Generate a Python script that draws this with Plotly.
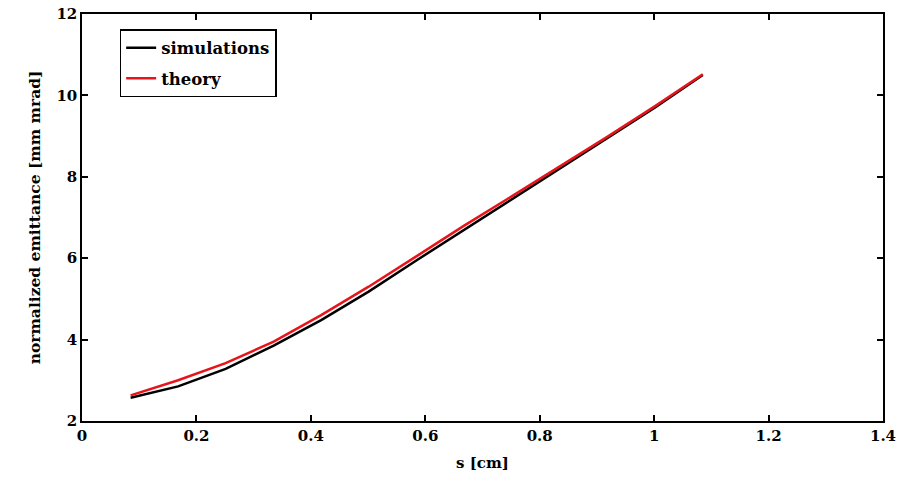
import plotly.graph_objects as go

s_vals = [0.085, 0.168, 0.251, 0.335, 0.418, 0.501, 0.585, 0.668, 0.751, 0.835, 0.918, 1.001, 1.085]
sim_vals = [2.57, 2.85, 3.28, 3.85, 4.48, 5.18, 5.95, 6.7, 7.45, 8.2, 8.95, 9.7, 10.5]
theory_vals = [2.63, 3.0, 3.42, 3.95, 4.6, 5.3, 6.05, 6.8, 7.52, 8.25, 8.98, 9.73, 10.52]

x_ticks = [0, 0.2, 0.4, 0.6, 0.8, 1, 1.2, 1.4]
y_ticks = [2, 4, 6, 8, 10, 12]

font_family = "DejaVu Serif"

fig = go.Figure()
fig.add_trace(go.Scatter(x=s_vals, y=sim_vals, mode="lines", name="simulations",
                         legendgroup="a", line=dict(color="black", width=2.5)))
fig.add_trace(go.Scatter(x=s_vals, y=theory_vals, mode="lines", name="theory",
                         legendgroup="b", line=dict(color="#e8141c", width=2.5)))

axis_common = dict(showline=True, linecolor="black", linewidth=1.5, mirror="ticks",
                   ticks="inside", ticklen=6, tickcolor="black", tickwidth=1.5,
                   showgrid=False, zeroline=False, automargin=False,
                   tickfont=dict(family=font_family, size=15, color="black", weight="bold"))

fig.update_layout(
    width=912, height=487,
    margin=dict(l=82, r=29, t=14, b=66),
    plot_bgcolor="white", paper_bgcolor="white",
    xaxis=dict(range=[0, 1.4], tickvals=x_ticks, ticktext=[f"{v:g}" for v in x_ticks],
               title=dict(text="s [cm]", font=dict(family=font_family, size=15, color="black", weight="bold"), standoff=14),
               **axis_common),
    yaxis=dict(range=[2, 12], tickvals=y_ticks, ticktext=[str(v) for v in y_ticks],
               title=dict(text="normalized emittance [mm mrad]", font=dict(family=font_family, size=15.5, color="black", weight="bold"), standoff=12),
               **axis_common),
    legend=dict(x=0.047, y=0.963, xanchor="left", yanchor="top",
                bgcolor="white", bordercolor="black", borderwidth=1.5,
                font=dict(family=font_family, size=16.5, color="black", weight="bold"),
                tracegroupgap=6, entrywidth=150, entrywidthmode="pixels"),
    showlegend=True,
)

fig.write_html("out.html")
